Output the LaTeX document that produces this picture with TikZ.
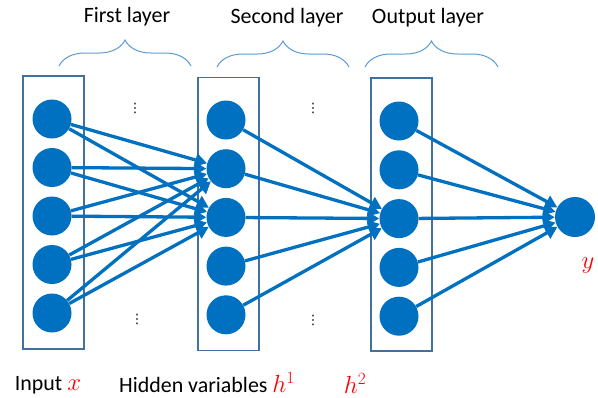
\documentclass[tikz,border=0pt]{standalone}
\usepackage{fontspec}
\setmainfont{Carlito}
\newfontfamily\symfont{DejaVu Sans}
\usetikzlibrary{arrows.meta,decorations.pathreplacing}
\definecolor{nodeBlue}{RGB}{0,112,192}
\definecolor{boxBlue}{RGB}{65,113,156}
\definecolor{braceBlue}{RGB}{91,155,213}
\newcommand{\redvar}[1]{\textcolor{red}{\fontsize{25}{25}\selectfont$#1$}}
\tikzset{
    neuron/.style={circle,fill=nodeBlue,minimum size=39bp,inner sep=0pt},
    layerbox/.style={rectangle,draw=boxBlue,line width=1.2bp,minimum width=61bp,
        minimum height=273bp,inner sep=0pt},
    edge/.style={-{Triangle[length=12bp,width=13bp]},draw=nodeBlue,line width=3.3bp},
    brace/.style={decorate,decoration={brace,amplitude=26bp},draw=braceBlue,line width=1bp},
    lbl/.style={font=\fontsize{22}{26}\selectfont,inner sep=0pt},
    vdot/.style={font=\symfont\fontsize{13}{13}\selectfont,inner sep=0pt}
}
\begin{document}
\begin{tikzpicture}[x=1bp,y=-1bp]
    \useasboundingbox (0,0) rectangle (598,397);

    % layer boxes
    \node[layerbox] (inbox) at (53.5,212.5) {};
    \node[layerbox] (hidbox) at (228.5,214) {};
    \node[layerbox] (outbox) at (401.5,214.5) {};

    % neurons
    \foreach \i in {1,...,5}{
        \node[neuron] (x\i) at (52,{119+48.5*(\i-1)}) {};
        \node[neuron] (a\i) at (226,{120+48.7*(\i-1)}) {};
        \node[neuron] (b\i) at (399,{121+48.8*(\i-1)}) {};
    }
    \node[neuron,minimum size=40bp] (out) at (575,217) {};

    % connections
    \foreach \i in {1,...,5}{
        \draw[edge] (x\i) -- (a2);
        \draw[edge] (x\i) -- (a3);
        \draw[edge] (a\i) -- (b3);
        \draw[edge] (b\i) -- (out);
    }

    % dots between layers
    \node[vdot] (dt1) at (135,108) {⋮};
    \node[vdot] (db1) at (137,319) {⋮};
    \node[vdot] (dt2) at (313,108) {⋮};
    \node[vdot] (db2) at (313,320) {⋮};

    % braces and layer names
    \draw[brace] (59,66) -- (191,66);
    \draw[brace] (217,67) -- (349,67);
    \draw[brace] (365,67) -- (498,67);
    \node[lbl] (first) at (127,17) {First layer};
    \node[lbl] (second) at (287,18) {Second layer};
    \node[lbl] (outname) at (428,18) {Output layer};

    % variable names
    \node[lbl] (inname) at (48,385) {Input \redvar{x}};
    \node[lbl] (hidname) at (207,383) {Hidden variables \redvar{h^1}};
    \node[lbl] (hname) at (355,383) {\redvar{h^2}};
    \node[lbl] (yname) at (588,266) {\redvar{y}};
\end{tikzpicture}
\end{document}
